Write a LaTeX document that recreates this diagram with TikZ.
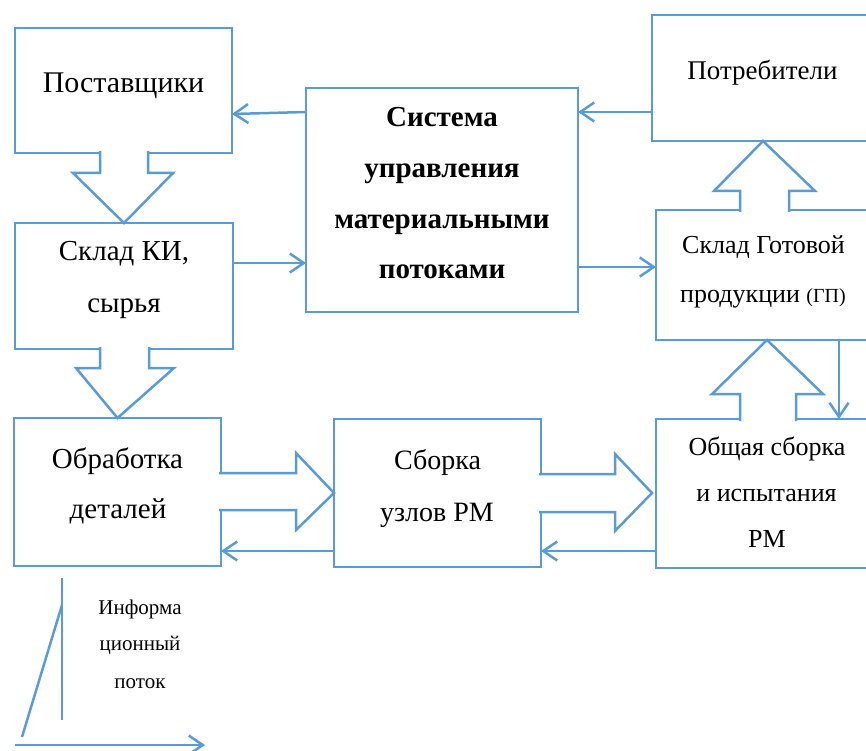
\documentclass[tikz,border=0pt]{standalone}
\usepackage{fontspec}
\setmainfont{Liberation Serif}
\usetikzlibrary{arrows.meta}
\definecolor{ln}{HTML}{5B9BD5}
\begin{document}
\begin{tikzpicture}[x=1pt,y=-1pt,
  box/.style={draw=ln, line width=2.5pt, rectangle, inner sep=0pt, outer sep=0pt},
  blk/.style={draw=ln, fill=white, line width=2.5pt, line join=miter},
  arr/.style={draw=ln, line width=2.5pt, -{Straight Barb[length=14pt,width=19pt]}},
  lbl/.style={anchor=base, inner sep=0pt}]
\useasboundingbox (0,0) rectangle (866,751);
\clip (0,0) rectangle (866,751);
% boxes
\node[box, minimum width=217pt, minimum height=125pt] (post) at (123.5,90.5) {};
\node[box, minimum width=218pt, minimum height=126pt] (skl) at (124,286) {};
\node[box, minimum width=207pt, minimum height=148pt] (obr) at (117.5,492) {};
\node[box, minimum width=272pt, minimum height=224pt] (sys) at (442,200) {};
\node[box, minimum width=248pt, minimum height=126pt] (potr) at (776,78) {};
\node[box, minimum width=244pt, minimum height=130pt] (gp) at (778,275) {};
\node[box, minimum width=207pt, minimum height=148pt] (sb) at (437.5,493) {};
\node[box, minimum width=244pt, minimum height=149pt] (ob) at (778,493.5) {};
% texts
\node[lbl, font=\fontsize{30}{36}\selectfont] (post-t) at (123.5,93) {Поставщики};
\node[lbl, font=\fontsize{29}{35}\selectfont] (skl-t1) at (124,260) {Склад КИ,};
\node[lbl, font=\fontsize{29}{35}\selectfont] (skl-t2) at (124,312) {сырья};
\node[lbl, font=\fontsize{29}{35}\selectfont] (obr-t1) at (117.5,468) {Обработка};
\node[lbl, font=\fontsize{29}{35}\selectfont] (obr-t2) at (118,518) {деталей};
\node[lbl, font=\fontsize{29}{35}\selectfont\bfseries] (sys-t1) at (442,127) {Система};
\node[lbl, font=\fontsize{29}{35}\selectfont\bfseries] (sys-t2) at (442,178) {управления};
\node[lbl, font=\fontsize{29}{35}\selectfont\bfseries] (sys-t3) at (442,228) {материальными};
\node[lbl, font=\fontsize{29}{35}\selectfont\bfseries] (sys-t4) at (442,278) {потоками};
\node[lbl, font=\fontsize{27}{32}\selectfont] (potr-t) at (762.5,80) {Потребители};
\node[lbl, font=\fontsize{26}{31}\selectfont] (gp-t1) at (763.5,253) {Склад Готовой};
\node[lbl, font=\fontsize{26}{31}\selectfont] (gp-t2) at (763,302) {продукции {\fontsize{20}{24}\selectfont(ГП)}};
\node[lbl, font=\fontsize{28}{34}\selectfont] (sb-t1) at (437.5,469) {Сборка};
\node[lbl, font=\fontsize{28}{34}\selectfont] (sb-t2) at (437,521) {узлов РМ};
\node[lbl, font=\fontsize{26}{31}\selectfont] (ob-t1) at (767,455) {Общая сборка};
\node[lbl, font=\fontsize{26}{31}\selectfont] (ob-t2) at (766.5,501) {и испытания};
\node[lbl, font=\fontsize{26}{31}\selectfont] (ob-t3) at (767,547) {РМ};
\node[lbl, font=\fontsize{21}{25}\selectfont] (leg-t1) at (140,614) {Информа};
\node[lbl, font=\fontsize{21}{25}\selectfont] (leg-t2) at (140,650) {ционный};
\node[lbl, font=\fontsize{21}{25}\selectfont] (leg-t3) at (140,688) {поток};
% block arrows (material flow)
\path[blk] (100,151) -- (100,173) -- (73,173) -- (skl.north) -- (173,173) -- (148,173) -- (148,151);
\path[blk] (100,347) -- (100,368) -- (76,368) -- (obr.north) -- (174,368) -- (149,368) -- (149,347);
\path[blk] (740,212) -- (740,191) -- (714,191) -- (763,141) -- (815,191) -- (789,191) -- (789,212);
\path[blk] (740,421) -- (740,394) -- (712,394) -- (767,340) -- (823,394) -- (796,394) -- (796,421);
\path[blk] (219,473) -- (296,473) -- (296,453) -- (sb.west) -- (296,530) -- (296,510) -- (219,510);
\path[blk] (539,474) -- (615,474) -- (615,454) -- (652,493) -- (615,531) -- (615,512) -- (539,512);
% information flow
\draw[arr] (sys.west |- 0,112) -- (post.east |- 0,114);
\draw[arr] (potr.west |- 0,112) -- (sys.east |- 0,112);
\draw[arr] (skl.east |- 0,263) -- (sys.west |- 0,263);
\draw[arr] (sys.east |- 0,267) -- (gp.west |- 0,267);
\draw[arr] (gp.south -| 839,0) -- (ob.north -| 839,0);
\draw[arr] (sb.west |- 0,551) -- (obr.east |- 0,551);
\draw[arr] (ob.west |- 0,551) -- (sb.east |- 0,551);
% legend
\coordinate (lv1) at (62,578);
\coordinate (lv2) at (62,720);
\coordinate (ld1) at (22,737);
\coordinate (ld2) at (62,605);
\coordinate (lh1) at (15,745);
\coordinate (lh2) at (205,745);
\draw[ln, line width=2.5pt] (lv1) -- (lv2);
\draw[ln, line width=2.5pt] (ld1) -- (ld2);
\draw[arr] (lh1) -- (lh2);
\end{tikzpicture}
\end{document}
